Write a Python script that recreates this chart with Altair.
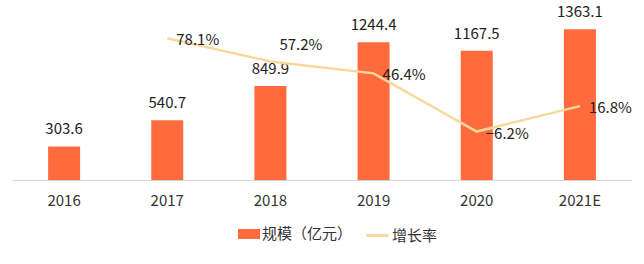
import altair as alt
import pandas as pd

years = ["2016", "2017", "2018", "2019", "2020", "2021E"]
scale_vals = [303.6, 540.7, 849.9, 1244.4, 1167.5, 1363.1]
growth_years = ["2017", "2018", "2019", "2020", "2021E"]
growth_vals = [78.1, 57.2, 46.4, -6.2, 16.8]

bar_name = "规模（亿元）"
line_name = "增长率"
BAR_COLOR = "#FF6B3D"
LINE_COLOR = "#F8D99C"
FONT = "Noto Sans CJK SC"
FS = 15

bars_df = pd.DataFrame({"year": years, "value": scale_vals, "series": bar_name})
line_df = pd.DataFrame({"year": growth_years, "rate": growth_vals, "series": line_name})

x = alt.X("year:N", sort=years, title=None,
          scale=alt.Scale(paddingInner=0.69, paddingOuter=0.35),
          axis=alt.Axis(labelAngle=0, ticks=False, grid=False, domainColor="#D9D9D9",
                        labelFont=FONT, labelFontSize=FS, labelColor="#333333",
                        labelPadding=13))

bar_base = alt.Chart(bars_df).encode(
    x=x,
    y=alt.Y("value:Q", scale=alt.Scale(domain=[0, 1600], nice=False), axis=None),
)
bars = bar_base.mark_bar(size=32).encode(
    fill=alt.Fill("series:N",
                  scale=alt.Scale(domain=[bar_name], range=[BAR_COLOR]),
                  legend=alt.Legend(title=None, orient="none", legendX=226, legendY=220,
                                    symbolType="M-1,-0.45L1,-0.45L1,0.45L-1,0.45Z",
                                    symbolSize=484, symbolStrokeWidth=0,
                                    labelFont=FONT, labelFontSize=FS, labelColor="#333333",
                                    labelOffset=2, padding=0))
)
bar_text = bar_base.mark_text(font=FONT, fontSize=FS, color="#222222",
                              baseline="middle", dy=-17).encode(
    text=alt.Text("value:Q", format=".1f"))

line_base = alt.Chart(line_df).transform_calculate(
    label="format(datum.rate, '.1f') + '%'"
).encode(
    x=x,
    y=alt.Y("rate:Q", scale=alt.Scale(domain=[-50, 110], nice=False, zero=False), axis=None),
)
line = line_base.mark_line(strokeWidth=2.5).encode(
    stroke=alt.Stroke("series:N",
                      scale=alt.Scale(domain=[line_name], range=[LINE_COLOR]),
                      legend=alt.Legend(title=None, orient="none", legendX=353, legendY=220,
                                        symbolType="stroke", symbolSize=484,
                                        symbolStrokeWidth=3,
                                        labelFont=FONT, labelFontSize=FS, labelColor="#333333",
                                        labelOffset=2, padding=0))
)
line_text = line_base.transform_filter(alt.datum.year != "2018").mark_text(
    font=FONT, fontSize=FS, color="#222222", align="left", baseline="middle", dx=9, dy=2
).encode(text="label:N")
line_text_2018 = line_base.transform_filter(alt.datum.year == "2018").mark_text(
    font=FONT, fontSize=FS, color="#222222", align="left", baseline="middle", dx=9, dy=-16
).encode(text="label:N")

chart = alt.layer(
    alt.layer(bars, bar_text),
    alt.layer(line, line_text, line_text_2018),
).resolve_scale(y="independent", fill="independent", stroke="independent").properties(
    width=620, height=177,
    autosize=alt.AutoSizeParams(type="none"),
    padding={"left": 12, "right": 12, "top": 3, "bottom": 84},
).configure(background="white").configure_view(stroke=None)

chart.save("out.html", embed_options={"renderer": "svg", "actions": False})
